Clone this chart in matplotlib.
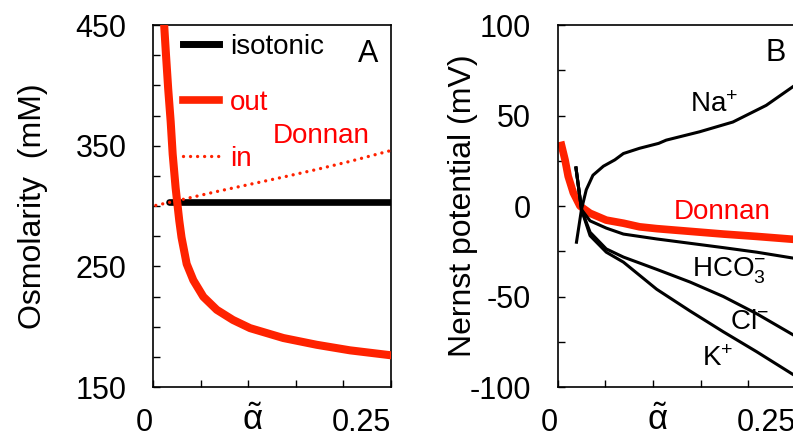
import matplotlib
matplotlib.use('Agg')
import matplotlib.pyplot as plt
from matplotlib.lines import Line2D

plt.rcParams['font.family'] = ['Liberation Sans', 'DejaVu Sans']
plt.rcParams['mathtext.fontset'] = 'custom'
plt.rcParams['mathtext.rm'] = 'Liberation Sans'
plt.rcParams['mathtext.it'] = 'Liberation Sans:italic'
plt.rcParams['axes.unicode_minus'] = False

RED = '#ff2200'

# Panel A : osmolarity (mM) against alpha
alpha_out = [0.0116, 0.0137, 0.016, 0.0186, 0.0207, 0.0238, 0.0276, 0.030, 0.0354,
             0.0424, 0.0529, 0.067, 0.084, 0.102, 0.137, 0.172, 0.207, 0.25]
osm_out = [452, 425, 397, 370, 343, 315, 288, 274, 252,
           238.5, 224.8, 214, 205.6, 198.8, 190.6, 185, 180.4, 176.3]
alpha_in = [0.003, 0.032, 0.067, 0.102, 0.137, 0.172, 0.207, 0.25]
osm_in = [300.5, 305.6, 312, 318, 324, 330.3, 337, 346]
alpha_iso = [0.017, 0.25]
osm_iso = [303, 303]

# Panel B : Nernst potentials (mV) against alpha
alpha_don = [0.004, 0.0077, 0.011, 0.0164, 0.0234, 0.034, 0.051, 0.069, 0.086,
             0.104, 0.139, 0.174, 0.209, 0.25]
mv_don = [33.5, 25.5, 16.4, 7.3, 0, -4, -7.8, -9.5, -11.5,
          -12.5, -14, -15.5, -16.8, -18.5]
alpha_na = [0.0197, 0.025, 0.030, 0.037, 0.048, 0.060, 0.069, 0.086, 0.106,
            0.114, 0.149, 0.184, 0.219, 0.25]
mv_na = [-20, -1.8, 9, 17, 22, 25.5, 29, 31.9, 34.6, 36.4, 41, 46.4, 55.6, 67]
alpha_an = [0.0192, 0.025, 0.034, 0.051, 0.069, 0.104, 0.139, 0.174, 0.209, 0.25]
mv_hco3 = [21, -2, -8.2, -12.2, -15.5, -18.2, -20.6, -23, -25.5, -29]
mv_cl = [21, -2, -14.5, -23.7, -28.2, -35, -42, -50, -59.5, -72]
mv_k = [21, -2, -16.4, -25.5, -31, -46, -58, -69.5, -80.5, -94]

xticks = [0, 0.05, 0.1, 0.15, 0.2, 0.25]
xlabels = ['0', '', '', '', '', '0.25']
yticks_A = [150, 175, 200, 225, 250, 275, 300, 325, 350, 375, 400, 425, 450]
ylabels_A = ['150', '', '', '', '250', '', '', '', '350', '', '', '', '450']
yticks_B = [-100, -75, -50, -25, 0, 25, 50, 75, 100]
ylabels_B = ['-100', '', '-50', '', '0', '', '50', '', '100']


def habiller(ax, yticks, ylabels, ylabel, xlab):
    ax.set_xlim(0, 0.25)
    ax.set_ylim(yticks[0], yticks[-1])
    ax.set_xticks(xticks)
    ax.set_xticklabels(xlabels, ha='right')
    ax.set_yticks(yticks)
    ax.set_yticklabels(ylabels)
    ax.tick_params(direction='in', length=5, width=1, labelsize=22)
    ax.tick_params(axis='x', pad=15)
    ax.tick_params(axis='y', pad=19)
    for s in ax.spines.values():
        s.set_linewidth(1.2)
    ax.set_ylabel(ylabel, fontsize=23)
    ax.yaxis.set_label_coords(xlab, 0.5)
    ax.text(0.42, -0.093, r'$\tilde{\mathrm{\alpha}}$', transform=ax.transAxes,
            ha='center', va='center', fontsize=25)


fig = plt.figure(figsize=(7.93, 4.41), dpi=100)
axA = fig.add_axes([0.1929, 0.1224, 0.3001, 0.8209])
axB = fig.add_axes([0.7033, 0.1224, 0.3001, 0.8209])

# A
axA.plot(alpha_iso, osm_iso, color='black', lw=4.8, solid_capstyle='round', zorder=2)
axA.plot(alpha_in, osm_in, color=RED, lw=2.4, ls=(0, (0.01, 2.1)),
         dash_capstyle='round', zorder=3)
axA.plot(alpha_out, osm_out, color=RED, lw=5.8, zorder=4)
habiller(axA, yticks_A, ylabels_A, 'Osmolarity  (mM)', -0.44)

poignees = [Line2D([], [], color='black', lw=5),
            Line2D([], [], color=RED, lw=5.5),
            Line2D([], [], color=RED, lw=2.4, ls=(0, (0.01, 2.1)), dash_capstyle='round')]
axA.legend(poignees, ['isotonic', 'out', 'in'], loc='upper left',
           bbox_to_anchor=(0.126, 0.975), frameon=False, fontsize=20,
           labelcolor=['black', 'red', 'red'], handlelength=1.3,
           handletextpad=0.4, labelspacing=1.08, borderpad=0, borderaxespad=0)
axA.text(0.126, 352, 'Donnan', color='red', fontsize=20, va='baseline')
axA.text(0.215, 419, 'A', fontsize=22, va='baseline')

# B
axB.plot(alpha_don, mv_don, color=RED, lw=5.5, zorder=2)
axB.plot(alpha_na, mv_na, color='black', lw=2.2, zorder=3)
axB.plot(alpha_an, mv_hco3, color='black', lw=2.2, zorder=3)
axB.plot(alpha_an, mv_cl, color='black', lw=2.2, zorder=3)
axB.plot(alpha_an, mv_k, color='black', lw=2.2, zorder=3)
habiller(axB, yticks_B, ylabels_B, 'Nernst potential (mV)', -0.335)

axB.text(0.139, 52, r'Na$^{+}$', fontsize=20, va='baseline')
axB.text(0.122, -7.3, 'Donnan', color='red', fontsize=20, va='baseline')
axB.text(0.141, -39, r'HCO$_3^{-}$', fontsize=20, va='baseline')
axB.text(0.181, -68, r'Cl$^{-}$', fontsize=20, va='baseline')
axB.text(0.152, -88.3, r'K$^{+}$', fontsize=20, va='baseline')
axB.text(0.218, 80, 'B', fontsize=22, va='baseline')

fig.savefig('out.png', dpi=100)
